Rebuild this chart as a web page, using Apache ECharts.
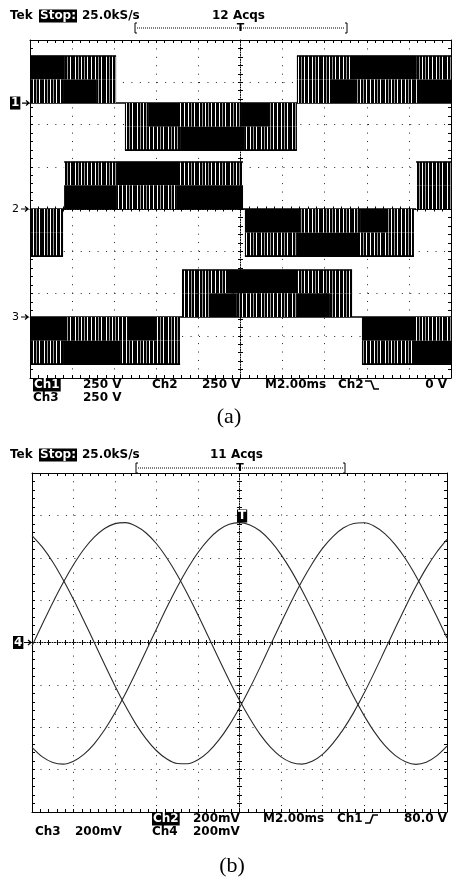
<!DOCTYPE html>
<html><head><meta charset="utf-8">
<script src="https://cdn.jsdelivr.net/npm/echarts@6/dist/echarts.min.js"></script>
<style>html,body{margin:0;padding:0;background:#fff;}#c{width:454px;height:880px;}</style>
</head><body><div id="c"></div>
<script>
// ---------------- DATA ----------------
// Panel (b): sample times (ms) and the three phase voltages (mV, 200 mV/div)
const timeMs = [0,0.5,1,1.5,2,2.5,3,3.5,4,4.5,5,5.5,6,6.5,7,7.5,8,8.5,9,9.5,10,10.5,11,11.5,12,12.5,13,13.5,14,14.5,15,15.5,16,16.5,17,17.5,18,18.5,19,19.5,20];
const phaseA = [-16,87,188,282,367,440,497,538,561,566,550,517,466,399,319,228,130,27,-77,-178,-273,-359,-435,-495,-540,-566,-574,-561,-528,-476,-410,-331,-240,-141,-37,66,168,264,351,426,487];
const phaseB = [-495,-540,-566,-574,-560,-528,-478,-412,-332,-242,-143,-39,64,166,262,349,425,486,531,558,566,555,526,478,415,338,249,152,50,-54,-157,-255,-344,-422,-486,-533,-563,-575,-565,-535,-489];
const phaseC = [505,450,380,296,203,103,0,-104,-205,-299,-384,-455,-511,-550,-571,-572,-553,-516,-461,-391,-308,-215,-115,-10,93,194,288,372,444,500,540,562,565,549,514,462,395,314,222,124,21];

// Panel (a): channel ground levels (V on the 250 V/div screen)
const chGround = [627, 0, -639];
// Panel (a): PWM bands [tStart ms, tEnd ms, vLow V, vHigh V, chopped(1)/solid(0)], relative to channel ground
const ch1Bands = [
  [0,1.66,140,280,0],[1.66,4.09,140,280,1],[0,1.57,0,140,1],[1.57,3.18,0,140,0],[3.18,4.09,0,140,1],
  [4.51,5.61,-140,0,1],[5.61,7.13,-140,0,0],[7.13,10.07,-140,0,1],[10.07,11.4,-140,0,0],[11.4,12.68,-140,0,1],
  [4.51,7.13,-280,-140,1],[7.13,10.21,-280,-140,0],[10.21,12.68,-280,-140,1],
  [12.68,15.2,140,280,1],[15.2,18.38,140,280,0],[18.38,20,140,280,1],
  [12.68,14.25,0,140,1],[14.25,15.44,0,140,0],[15.44,18.38,0,140,1],[18.38,20,0,140,0]
];
const ch2Bands = [
  [0,1.57,-140,0,1],[0,1.57,-280,-140,1],
  [1.62,4.13,140,280,1],[4.13,7.13,140,280,0],[7.13,10.12,140,280,1],
  [1.62,4.13,0,140,0],[4.13,6.98,0,140,1],[6.98,10.12,0,140,0],
  [10.21,12.83,-140,0,0],[12.83,15.68,-140,0,1],[15.68,16.96,-140,0,0],[16.96,18.24,-140,0,1],
  [10.21,12.68,-280,-140,1],[12.68,15.68,-280,-140,0],[15.68,18.24,-280,-140,1],
  [18.34,20,140,280,1],[18.34,20,0,140,1]
];
const ch3Bands = [
  [0,1.76,-140,0,0],[1.76,4.61,-140,0,1],[4.61,6.03,-140,0,0],[6.03,7.13,-140,0,1],
  [0,1.57,-280,-140,1],[1.57,4.28,-280,-140,0],[4.28,7.13,-280,-140,1],
  [7.22,9.5,140,280,1],[9.5,12.73,140,280,0],[12.73,15.3,140,280,1],
  [7.22,8.55,0,140,1],[8.55,9.83,0,140,0],[9.83,12.68,0,140,1],[12.68,14.25,0,140,0],[14.25,15.3,0,140,1],
  [15.77,18.29,-140,0,0],[18.29,20,-140,0,1],[15.77,18.29,-280,-140,1],[18.29,20,-280,-140,0]
];
const bandFull = 280;

// ---------------- CHART ----------------
const chart = echarts.init(document.getElementById('c'), null, {renderer:'canvas'});
function makePattern(){
  const c=document.createElement('canvas'); c.width=31; c.height=4;
  const g=c.getContext('2d');
  g.fillStyle='#000'; g.fillRect(0,0,31,4);
  g.fillStyle='#fff'; [2,8,13,19,25,29].forEach(x=>g.fillRect(x,0,1,4));
  g.fillStyle='#9a9a9a'; [5,16,22].forEach(x=>g.fillRect(x,0,1,4));
  return c;
}
const pattern = {image: makePattern(), repeat:'repeat'};
const AX='#000';
const FONT='bold 12px "DejaVu Sans"';

function borderAxis(type, gridIndex, pos, min, max, interval, split, dash){
  return {type:'value', gridIndex, position:pos, min, max, interval,
    axisLine:{show:true, onZero:false, lineStyle:{color:AX, width:1}},
    axisTick:{show:true, inside:true, length:3, lineStyle:{color:AX}},
    minorTick:{show:true, splitNumber:5, length:3, lineStyle:{color:AX}},
    axisLabel:{show:false},
    splitLine:{show:split, lineStyle:{color:'#222', width:1, type:dash}}};
}
function centerAxis(gridIndex, pos, min, max, interval, showLine){
  return {type:'value', gridIndex, position:pos, min, max, interval,
    axisLine:{show:showLine, onZero:true, lineStyle:{color:AX, width:1, type:[1,1.5]}},
    axisTick:{show:true, inside:false, length:2.5, lineStyle:{color:AX}},
    minorTick:{show:true, splitNumber:5, length:2.5, lineStyle:{color:AX}},
    axisLabel:{show:false}, splitLine:{show:false}};
}
const GA={left:30, top:40, width:421, height:338};
const GB={left:32, top:473, width:415, height:339};

function bandSeries(bands, ground){
  return {type:'custom', xAxisIndex:0, yAxisIndex:0, clip:true, z:3,
    data: bands.map(b=>[b[0], b[1], b[2]+ground, b[3]+ground, b[4], b[2], b[3]]),
    encode:{x:[0,1], y:[2,3]},
    renderItem:function(params, api){
      const a=api.coord([api.value(0), api.value(3)]);
      const b=api.coord([api.value(1), api.value(2)]);
      const children=[{type:'rect', shape:{x:a[0], y:a[1], width:b[0]-a[0], height:b[1]-a[1]},
        style:{fill: api.value(4) ? pattern : '#000'}}];
      if (api.value(6) === bandFull) children.push({type:'rect', shape:{x:a[0], y:a[1]-0.5, width:b[0]-a[0], height:1.6}, style:{fill:'#000'}});
      if (api.value(5) === -bandFull) children.push({type:'rect', shape:{x:a[0], y:b[1]-1, width:b[0]-a[0], height:1.6}, style:{fill:'#000'}});
      return {type:'group', children};
    }};
}
function groundSeries(g){
  return {type:'line', xAxisIndex:0, yAxisIndex:0, z:2, data:[[0,g],[20,g]], showSymbol:false, silent:true,
    lineStyle:{color:'#000', width:1.6}};
}
function phaseSeries(vals){
  return {type:'line', xAxisIndex:4, yAxisIndex:4, z:3, data: timeMs.map((t,i)=>[t, vals[i]]), showSymbol:false, smooth:0.3,
    lineStyle:{color:'#2a2a2a', width:1.1}};
}

const option = {
  animation:false, backgroundColor:'#fff',
  grid:[Object.assign({},GA), Object.assign({},GA), Object.assign({},GB), Object.assign({},GB)],
  xAxis:[
    borderAxis('x',0,'bottom',0,20,2,true,[1,7.42]),
    borderAxis('x',0,'top',0,20,2,false),
    centerAxis(1,'bottom',-10,10,2,true),
    centerAxis(1,'top',-10,10,2,false),
    borderAxis('x',2,'bottom',0,20,2,true,[1,7.3]),
    borderAxis('x',2,'top',0,20,2,false),
    centerAxis(3,'bottom',-10,10,2,true),
    centerAxis(3,'top',-10,10,2,false)
  ],
  yAxis:[
    borderAxis('y',0,'left',-1000,1000,250,true,[1,7.45]),
    borderAxis('y',0,'right',-1000,1000,250,false),
    centerAxis(1,'left',-4,4,1,true),
    centerAxis(1,'right',-4,4,1,false),
    borderAxis('y',2,'left',-800,800,200,true,[1,7.48]),
    borderAxis('y',2,'right',-800,800,200,false),
    centerAxis(3,'left',-4,4,1,true),
    centerAxis(3,'right',-4,4,1,false)
  ],
  series:[
    groundSeries(chGround[0]), groundSeries(chGround[1]), groundSeries(chGround[2]),
    bandSeries(ch1Bands, chGround[0]), bandSeries(ch2Bands, chGround[1]), bandSeries(ch3Bands, chGround[2]),
    phaseSeries(phaseA), phaseSeries(phaseB), phaseSeries(phaseC)
  ]
};
chart.setOption(option);

// ---------------- TEXT / ANNOTATIONS ----------------
function txt(x,y,s,extra){ return {type:'text', x, y, z:10, style:Object.assign({text:s, font:FONT, fill:'#000', verticalAlign:'middle'}, extra||{})}; }
function inv(x,y,s){ return txt(x,y,s,{fill:'#fff', backgroundColor:'#000', padding:[1,1,0,1]}); }
function arrow(x,y){ return {type:'polyline', z:10, shape:{points:[[x,y],[x+7,y],[x+4,y-2.5],[x+7,y],[x+4,y+2.5]]}, style:{stroke:'#000', lineWidth:1.2, fill:null}}; }
function bracket(y, x0, x1, xc){
  return [
    {type:'polyline', shape:{points:[[x0+2,y-5],[x0,y-5],[x0,y+5],[x0+2,y+5]]}, style:{stroke:'#000', lineWidth:1, fill:null}},
    {type:'polyline', shape:{points:[[x1-2,y-5],[x1,y-5],[x1,y+5],[x1-2,y+5]]}, style:{stroke:'#000', lineWidth:1, fill:null}},
    {type:'line', shape:{x1:x0+2, y1:y, x2:x1-2, y2:y}, style:{stroke:'#000', lineWidth:1, lineDash:[1,1]}},
    txt(xc,y,'T',{align:'center', font:'bold 11px "DejaVu Sans"'})
  ];
}
const gPix = chGround.map(g=>chart.convertToPixel({xAxisIndex:0, yAxisIndex:0},[0,g])[1]);
const zeroB = chart.convertToPixel({xAxisIndex:4, yAxisIndex:4},[0,0])[1];
const graphics = [
  // panel (a)
  txt(10,16,'Tek'), inv(39,16,'Stop:'), txt(82,16,'25.0kS/s'), txt(212,16,'12 Acqs'),
  ...bracket(28,135,347,240.5),
  inv(33,385,'Ch1'), txt(83,385,'250 V'), txt(152,385,'Ch2'), txt(202,385,'250 V'),
  txt(265,385,'M2.00ms'), txt(338,385,'Ch2'),
  {type:'polyline', shape:{points:[[365,381],[371,381],[374,389],[379,389]]}, style:{stroke:'#000', lineWidth:1.6, fill:null}},
  txt(447,385,'0 V',{align:'right'}),
  txt(33,398,'Ch3'), txt(83,398,'250 V'),
  txt(229,417,'(a)',{align:'center', font:'22px "Liberation Serif"'}),
  inv(10,gPix[0],'1'), arrow(22,gPix[0]),
  txt(12,gPix[1],'2',{font:'11px "DejaVu Sans"'}), arrow(21,gPix[1]),
  txt(12,gPix[2],'3',{font:'11px "DejaVu Sans"'}), arrow(21,gPix[2]),
  // panel (b)
  txt(10,455,'Tek'), inv(39,455,'Stop:'), txt(82,455,'25.0kS/s'), txt(210,455,'11 Acqs'),
  ...bracket(468,136,345,240),
  inv(152,819,'Ch2'), txt(193,819,'200mV'), txt(263,819,'M2.00ms'), txt(337,819,'Ch1'),
  {type:'polyline', shape:{points:[[365,823],[370,823],[373,815],[378,815]]}, style:{stroke:'#000', lineWidth:1.6, fill:null}},
  txt(447,819,'80.0 V',{align:'right'}),
  txt(35,832,'Ch3'), txt(75,832,'200mV'), txt(152,832,'Ch4'), txt(193,832,'200mV'),
  txt(232,866,'(b)',{align:'center', font:'22px "Liberation Serif"'}),
  inv(13,zeroB,'4'), arrow(24,zeroB),
  inv(237,516,'T')
];
chart.setOption({graphic:{elements:graphics}});
</script></body></html>
